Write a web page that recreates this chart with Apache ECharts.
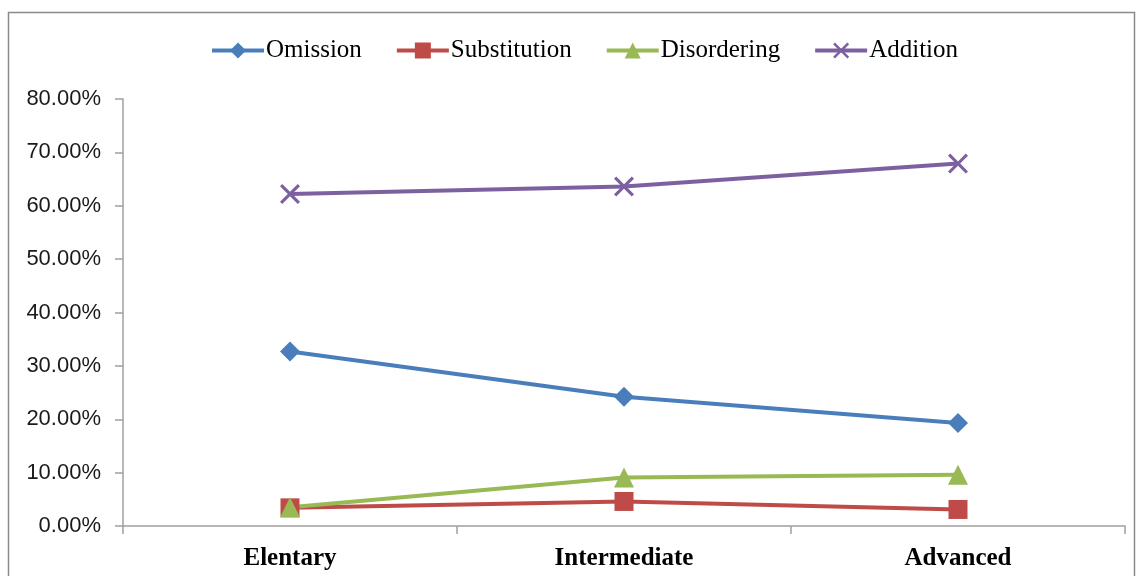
<!DOCTYPE html>
<html>
<head>
<meta charset="utf-8">
<script src="https://cdn.jsdelivr.net/npm/echarts@6/dist/echarts.min.js"></script>
<style>
  html, body { margin: 0; padding: 0; background: #fff; }
  #chart { width: 1143px; height: 576px; }
</style>
</head>
<body>
<div id="chart"></div>
<script>
// Error-type percentages by learner level
const levels = ['Elentary', 'Intermediate', 'Advanced'];
const omission = [32.7, 24.2, 19.3];
const substitution = [3.4, 4.6, 3.1];
const disordering = [3.5, 9.1, 9.6];
const addition = [62.2, 63.6, 67.9];
const yTicks = { min: 0, max: 80, interval: 10 };

// Filled "x" glyph for the Addition markers
const crossPath = 'path://M1.1,0 L5,3.9 L8.9,0 L10,1.1 L6.1,5 L10,8.9 L8.9,10 L5,6.1 L1.1,10 L0,8.9 L3.9,5 L0,1.1 Z';

const seriesDefs = [
  { name: 'Omission', data: omission, color: '#4a7ebb', symbol: 'diamond', size: 20 },
  { name: 'Substitution', data: substitution, color: '#be4b48', symbol: 'rect', size: 19 },
  { name: 'Disordering', data: disordering, color: '#98b954', symbol: 'triangle', size: 20 },
  { name: 'Addition', data: addition, color: '#7d60a0', symbol: crossPath, size: 20 }
];

const chart = echarts.init(document.getElementById('chart'), null, { renderer: 'canvas' });

chart.setOption({
  animation: false,
  backgroundColor: '#ffffff',
  graphic: [{
    type: 'rect',
    shape: { x: 8.5, y: 12.5, width: 1126, height: 620 },
    style: { fill: 'none', stroke: '#8a8a8a', lineWidth: 1.5 },
    silent: true
  }],
  legend: {
    left: 205,
    top: 33,
    itemWidth: 52,
    itemHeight: 20,
    itemGap: 33,
    lineStyle: { width: 4 },
    textStyle: { fontFamily: 'Liberation Serif', fontSize: 25, color: '#000', padding: [0, 0, 0, -3] },
    data: seriesDefs.map(s => s.name)
  },
  grid: { left: 123, right: 18, top: 99, bottom: 50, containLabel: false },
  xAxis: {
    type: 'category',
    data: levels,
    boundaryGap: true,
    axisLine: { lineStyle: { color: '#a0a0a0', width: 1.5 } },
    axisTick: { show: true, length: 8, lineStyle: { color: '#a0a0a0', width: 1.5 } },
    axisLabel: {
      margin: 20,
      fontFamily: 'Liberation Serif',
      fontWeight: 'bold',
      fontSize: 25,
      color: '#000'
    },
    splitLine: { show: false }
  },
  yAxis: {
    type: 'value',
    min: yTicks.min,
    max: yTicks.max,
    interval: yTicks.interval,
    axisLine: { show: true, lineStyle: { color: '#a0a0a0', width: 1.5 } },
    axisTick: { show: true, length: 8, lineStyle: { color: '#a0a0a0', width: 1.5 } },
    axisLabel: {
      margin: 22,
      fontFamily: 'Liberation Sans',
      fontSize: 22,
      color: '#1a1a1a',
      formatter: v => v.toFixed(2) + '%'
    },
    splitLine: { show: false }
  },
  series: seriesDefs.map(s => ({
    name: s.name,
    type: 'line',
    data: s.data,
    symbol: s.symbol,
    symbolSize: s.size,
    showSymbol: true,
    color: s.color,
    lineStyle: { color: s.color, width: 4 },
    itemStyle: { color: s.color, borderWidth: 0 }
  }))
});
</script>
</body>
</html>
